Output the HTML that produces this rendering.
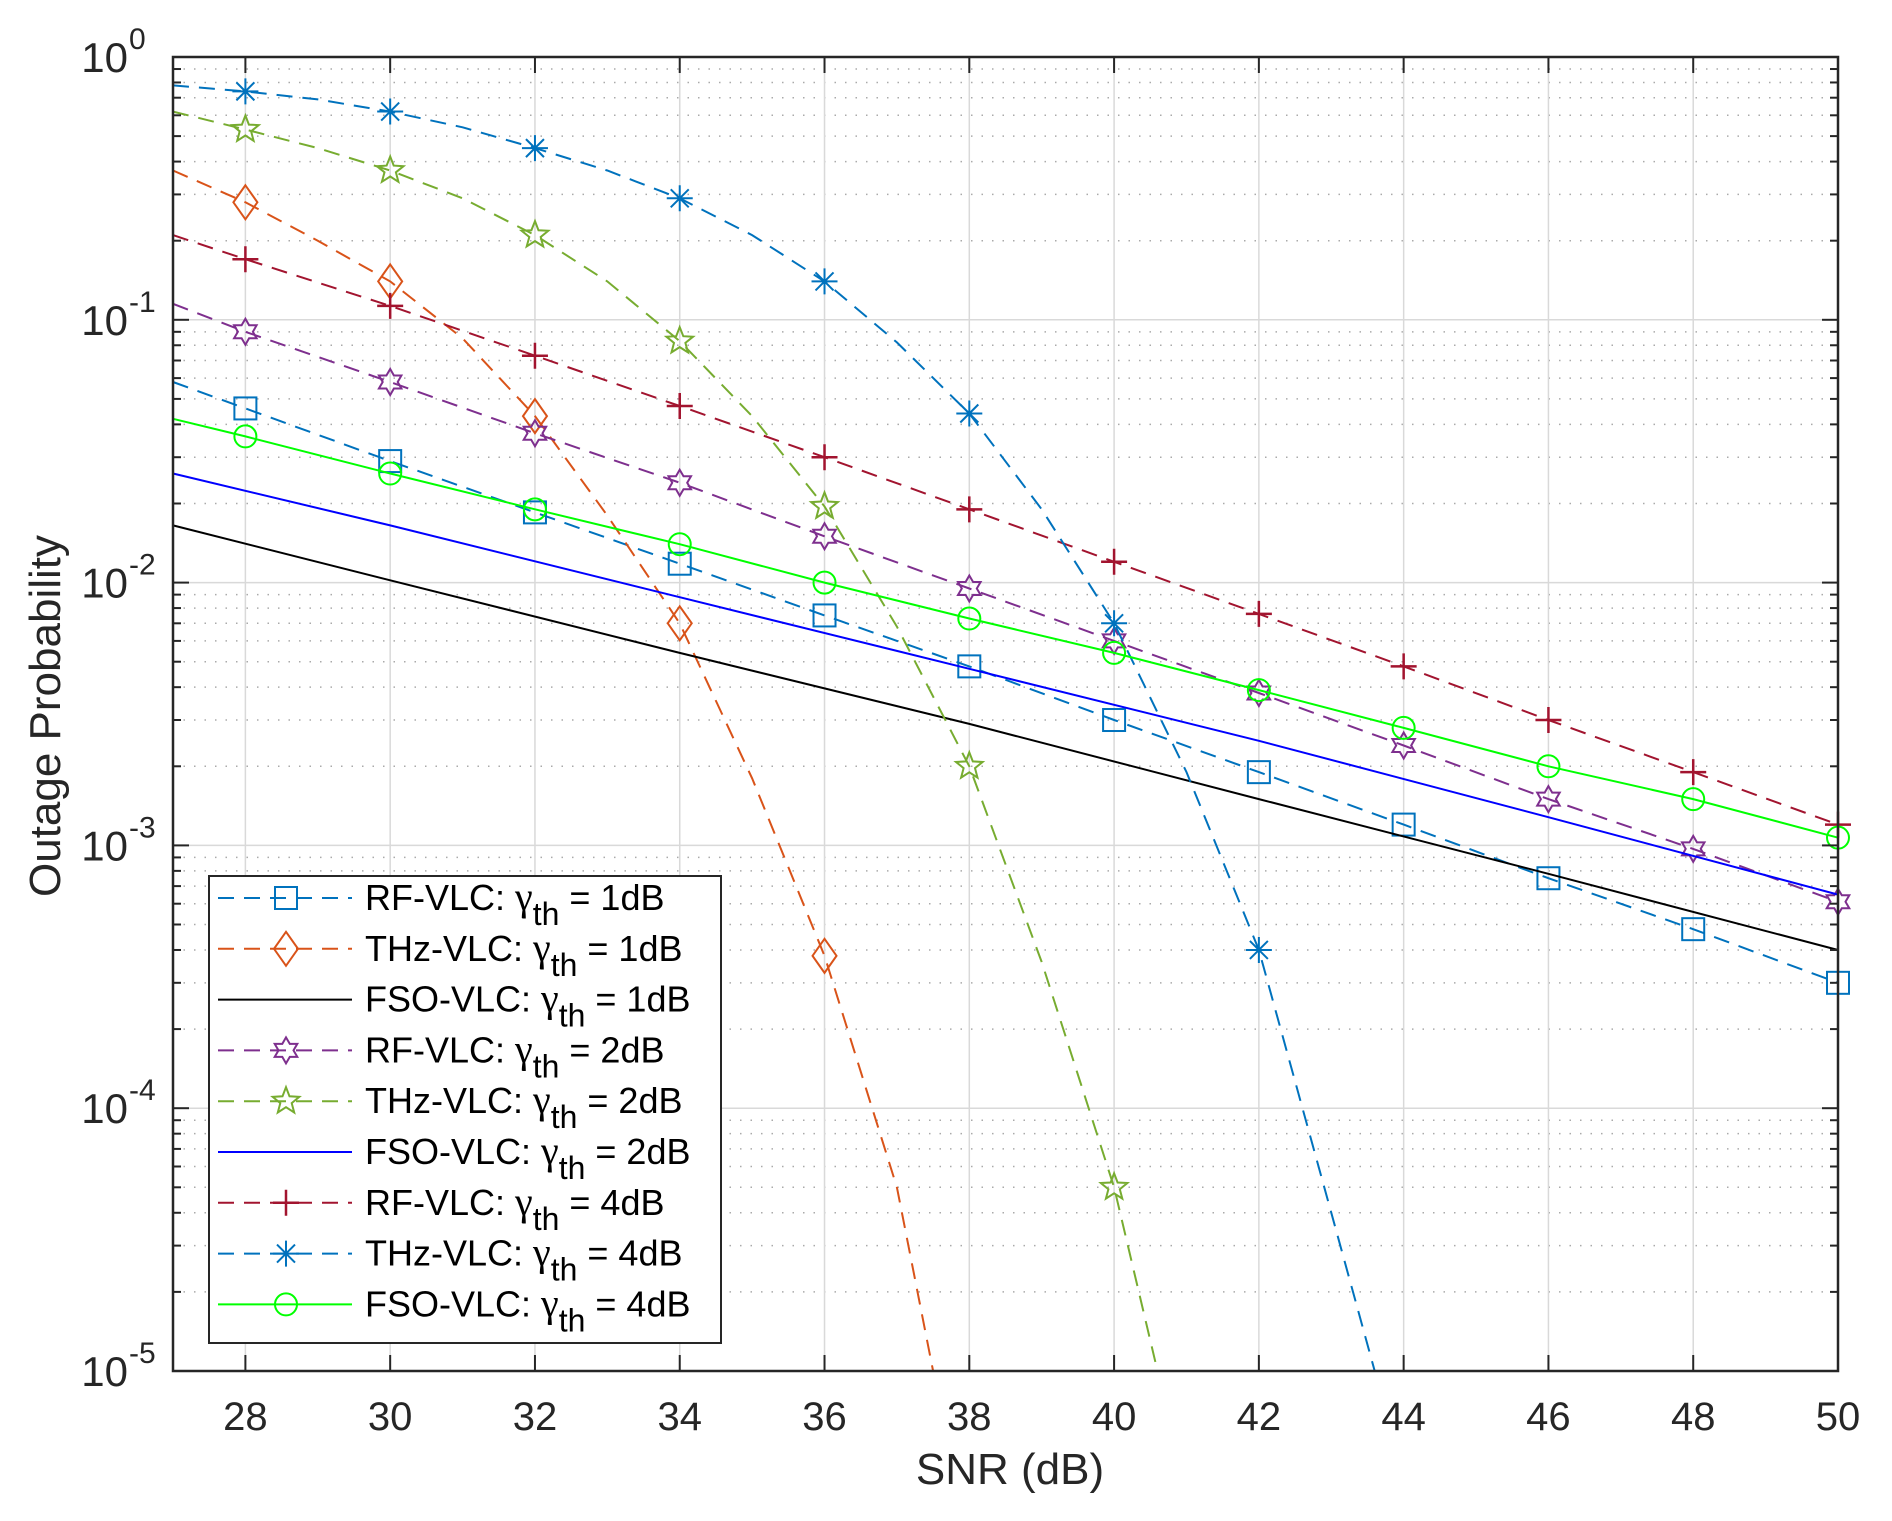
<!DOCTYPE html>
<html><head><meta charset="utf-8"><style>
html,body{margin:0;padding:0;background:#fff;}
svg text{font-family:"Liberation Sans",sans-serif;}
</style></head><body>
<svg id="chart" width="1892" height="1516" xmlns="http://www.w3.org/2000/svg">
<rect width="1892" height="1516" fill="#fff"/>
<g id="grid"></g>
<g id="series"></g>
<g id="axes"></g>
<g id="legend"></g>
<text x="1010" y="1484" font-size="44" text-anchor="middle" fill="#262626">SNR (dB)</text>
<text transform="translate(60,716) rotate(-90)" font-size="44" text-anchor="middle" fill="#262626">Outage Probability</text>
</svg>
<script>
const xTicks=[28,30,32,34,36,38,40,42,44,46,48,50];
const yDecades=[0,-1,-2,-3,-4,-5];
const names=["RF-VLC","THz-VLC","FSO-VLC","RF-VLC","THz-VLC","FSO-VLC","RF-VLC","THz-VLC","FSO-VLC"];
const gammas=["1dB","1dB","1dB","2dB","2dB","2dB","4dB","4dB","4dB"];
const rf1X=[27,28,30,32,34,36,38,40,42,44,46,48,50];
const rf1Y=[0.058,0.046,0.029,0.0185,0.0118,0.0075,0.0048,0.003,0.0019,0.0012,0.00075,0.00048,0.0003];
const thz1X=[27,28,29,30,31,32,33,34,35,36,37,37.5];
const thz1Y=[0.37,0.28,0.2,0.14,0.085,0.043,0.018,0.007,0.0018,0.00038,0.00005,0.00001];
const fso1X=[27,30,34,38,42,46,50];
const fso1Y=[0.0165,0.0102,0.0054,0.0029,0.0015,0.00078,0.0004];
const rf2X=[27,28,30,32,34,36,38,40,42,44,46,48,50];
const rf2Y=[0.115,0.09,0.058,0.037,0.024,0.015,0.0095,0.006,0.0038,0.0024,0.0015,0.00097,0.00061];
const thz2X=[27,28,29,30,31,32,33,34,35,36,37,38,39,40,40.6];
const thz2Y=[0.62,0.53,0.45,0.37,0.29,0.21,0.14,0.083,0.043,0.0195,0.0068,0.002,0.00036,0.00005,0.00001];
const fso2X=[27,30,34,38,42,46,50];
const fso2Y=[0.026,0.0165,0.0088,0.0047,0.0025,0.00128,0.00065];
const rf4X=[27,28,30,32,34,36,38,40,42,44,46,48,50];
const rf4Y=[0.21,0.17,0.113,0.073,0.047,0.03,0.019,0.012,0.0076,0.0048,0.003,0.0019,0.0012];
const thz4X=[27,28,29,30,31,32,33,34,35,36,37,38,39,40,41,42,43,43.6];
const thz4Y=[0.78,0.74,0.69,0.62,0.54,0.45,0.37,0.29,0.21,0.14,0.082,0.044,0.019,0.007,0.0019,0.0004,0.00004,0.00001];
const fso4X=[27,28,30,32,34,36,38,40,42,44,46,48,50];
const fso4Y=[0.042,0.036,0.026,0.019,0.014,0.01,0.0073,0.0054,0.0039,0.0028,0.002,0.0015,0.00107];

const L=173,R=1838,T=57,B=1371,xMin=27,xMax=50,yMin=-5,yMax=0;
const sx=x=>L+(x-xMin)/(xMax-xMin)*(R-L);
const sy=v=>T+(yMax-Math.log10(v))/(yMax-yMin)*(B-T);
const NS="http://www.w3.org/2000/svg";
function mk(tag,attrs,parent){const e=document.createElementNS(NS,tag);for(const k in attrs)e.setAttribute(k,attrs[k]);parent.appendChild(e);return e;}
const grid=document.getElementById('grid'),axes=document.getElementById('axes'),ser=document.getElementById('series'),leg=document.getElementById('legend');
for(let d=-5;d<0;d++){for(let m=2;m<=9;m++){const y=sy(m*Math.pow(10,d));
 const g=mk('line',{x1:L,x2:R,y1:y,y2:y,stroke:'#aaa','stroke-width':1.5,'stroke-dasharray':'1.5 9'},grid);
 
 const t1=mk('line',{x1:L,x2:L+8,y1:y,y2:y,stroke:'#262626','stroke-width':2},axes);
 
 const t2=mk('line',{x1:R,x2:R-8,y1:y,y2:y,stroke:'#262626','stroke-width':2},axes);
 }}
xTicks.forEach(v=>{const x=sx(v);
 const g=mk('line',{x1:x,x2:x,y1:T,y2:B,stroke:'#d9d9d9','stroke-width':1.5},grid);
 
 mk('line',{x1:x,x2:x,y1:B,y2:B-16,stroke:'#262626','stroke-width':2},axes);
 mk('line',{x1:x,x2:x,y1:T,y2:T+16,stroke:'#262626','stroke-width':2},axes);
 const t=mk('text',{x:x,y:1430,'font-size':40,'text-anchor':'middle',fill:'#262626'},axes);
 t.textContent=v;});
yDecades.forEach(d=>{const y=sy(Math.pow(10,d));
 const g=mk('line',{x1:L,x2:R,y1:y,y2:y,stroke:'#d9d9d9','stroke-width':1.5},grid);
 
 mk('line',{x1:L,x2:L+16,y1:y,y2:y,stroke:'#262626','stroke-width':2},axes);
 mk('line',{x1:R,x2:R-16,y1:y,y2:y,stroke:'#262626','stroke-width':2},axes);
 const t=mk('text',{x:128,y:y+15,'font-size':42,'text-anchor':'end',fill:'#262626'},axes);
 t.textContent='10';
 const e=mk('text',{x:129,y:y-8,'font-size':30,'text-anchor':'start',fill:'#262626'},axes);
 e.textContent=String(d);});
const box=mk('rect',{x:L,y:T,width:R-L,height:B-T,fill:'none',stroke:'#262626','stroke-width':2.5},axes);


function marker(type,x,y,c,p){const s=11;let e;
 if(type==='sq')e=mk('rect',{x:x-s,y:y-s,width:2*s,height:2*s,fill:'none',stroke:c,'stroke-width':2},p);
 else if(type==='di')e=mk('polygon',{points:`${x},${y-17} ${x+12},${y} ${x},${y+17} ${x-12},${y}`,fill:'none',stroke:c,'stroke-width':2},p);
 else if(type==='ci')e=mk('circle',{cx:x,cy:y,r:11,fill:'none',stroke:c,'stroke-width':2},p);
 else if(type==='pl')e=mk('path',{d:`M${x-13},${y}H${x+13}M${x},${y-13}V${y+13}`,stroke:c,'stroke-width':2.5},p);
 else if(type==='as')e=mk('path',{d:`M${x-13},${y}H${x+13}M${x},${y-13}V${y+13}M${x-9},${y-9}L${x+9},${y+9}M${x-9},${y+9}L${x+9},${y-9}`,stroke:c,'stroke-width':2},p);
 else if(type==='pe'){let pts=[];for(let i=0;i<10;i++){const a=-Math.PI/2+i*Math.PI/5,r=i%2?6:14;pts.push((x+r*Math.cos(a)).toFixed(1)+','+(y+r*Math.sin(a)).toFixed(1));}e=mk('polygon',{points:pts.join(' '),fill:'none',stroke:c,'stroke-width':2},p);}
 else if(type==='hx'){let pts=[];for(let i=0;i<12;i++){const a=-Math.PI/2+i*Math.PI/6,r=i%2?7.5:13;pts.push((x+r*Math.cos(a)).toFixed(1)+','+(y+r*Math.sin(a)).toFixed(1));}e=mk('polygon',{points:pts.join(' '),fill:'none',stroke:c,'stroke-width':2},p);}
 if(e){}}

const cfg=[
 {X:rf1X,Y:rf1Y,c:'#0072BD',d:true,m:'sq'},
 {X:thz1X,Y:thz1Y,c:'#D95319',d:true,m:'di'},
 {X:fso1X,Y:fso1Y,c:'#000000',d:false,m:null},
 {X:rf2X,Y:rf2Y,c:'#7E2F8E',d:true,m:'hx'},
 {X:thz2X,Y:thz2Y,c:'#77AC30',d:true,m:'pe'},
 {X:fso2X,Y:fso2Y,c:'#0000FF',d:false,m:null},
 {X:rf4X,Y:rf4Y,c:'#A2142F',d:true,m:'pl'},
 {X:thz4X,Y:thz4Y,c:'#0072BD',d:true,m:'as'},
 {X:fso4X,Y:fso4Y,c:'#00FF00',d:false,m:'ci'}];
cfg.forEach((s,i)=>{const g=mk('g',{},ser);
 
 const pts=s.X.map((x,j)=>sx(x).toFixed(1)+','+sy(s.Y[j]).toFixed(1)).join(' ');
 const a={points:pts,fill:'none',stroke:s.c,'stroke-width':2};if(s.d)a['stroke-dasharray']='16 10';
 const pl=mk('polyline',a,g);
 if(s.m)s.X.forEach((x,j)=>{if(Number.isInteger(x)&&x%2===0&&x>=28)marker(s.m,sx(x),sy(s.Y[j]),s.c,g);});});

const lb=mk('rect',{x:209,y:876,width:512,height:467,fill:'#fff',stroke:'#262626','stroke-width':2},leg);

cfg.forEach((s,i)=>{const y=898+i*50.8;const g=mk('g',{},leg);
 
 const a={x1:218,x2:352,y1:y,y2:y,stroke:s.c,'stroke-width':2};if(s.d)a['stroke-dasharray']='16 10';mk('line',a,g);
 if(s.m)marker(s.m,286,y,s.c,g);
 const t=mk('text',{x:365,y:y+12,'font-size':36,fill:'#000'},g);
 t.innerHTML=names[i]+': <tspan font-family="Liberation Serif" font-size="40">γ</tspan><tspan dy="15" font-size="32">th</tspan><tspan dy="-15"> = '+gammas[i]+'</tspan>';});
</script>
</body></html>
